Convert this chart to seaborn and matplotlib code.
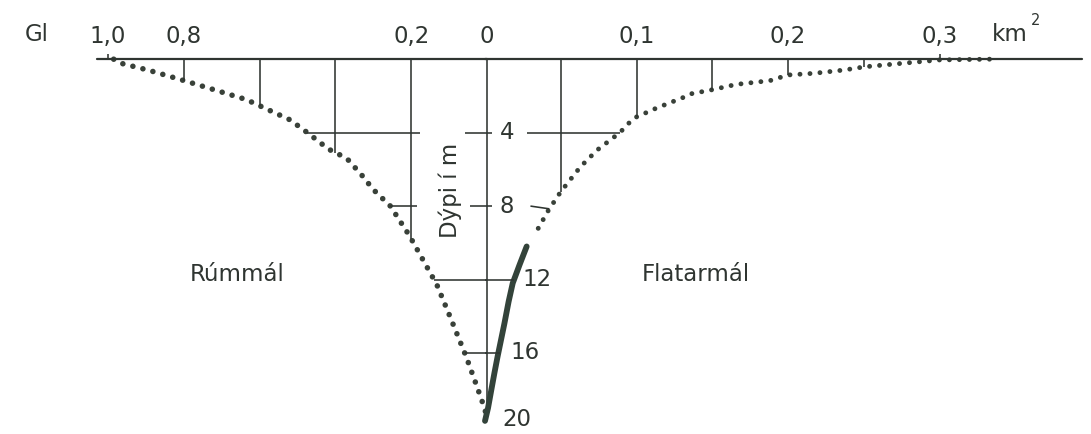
import numpy as np
import matplotlib
matplotlib.use("Agg")
import matplotlib.pyplot as plt
import seaborn as sns

# ---------------- data ----------------
# cumulative volume (Gl) below each depth (m)  -> left, dotted
VOL_DEPTH = [0, 0.2, 0.6, 1.1, 1.6, 2.2, 2.9, 3.3, 4.0, 4.9, 5.4, 6.3, 7.1, 8.0,
             9.6, 11.0, 12.3, 14.0, 16.2, 17.8, 19.1, 19.7]
VOLUME = [0.985, 0.970, 0.893, 0.810, 0.730, 0.635, 0.562, 0.520, 0.474, 0.418,
          0.370, 0.331, 0.300, 0.255, 0.205, 0.167, 0.132, 0.098, 0.055, 0.027,
          0.005, 0.0]

# area (km2) at each depth (m) -> right; dotted upper part, solid lower part
AREA_DEPTH_DOTTED = [0, 0.04, 0.22, 0.41, 0.59, 0.77, 0.86, 1.17, 1.37, 1.68,
                     1.90, 2.08, 2.67, 3.22, 4.0, 4.95, 5.86, 7.22, 8.21, 9.67]
AREA_DOTTED = [0.333, 0.300, 0.276, 0.251, 0.237, 0.217, 0.200, 0.188, 0.166,
               0.149, 0.135, 0.131, 0.113, 0.098, 0.089, 0.074, 0.063, 0.050,
               0.042, 0.032]
AREA_DEPTH_SOLID = [10.2, 11.2, 12.2, 13.2, 14.4, 15.2, 16.2, 17.1, 18.0, 19.0, 19.7]
AREA_SOLID = [0.0275, 0.0228, 0.0183, 0.0156, 0.0128, 0.0108, 0.0083, 0.0062,
              0.0042, 0.0020, 0.0]

VOL_TICKS = [0.0, 0.2, 0.4, 0.6, 0.8, 1.0]
VOL_TICK_LABELS = ["0", "0,2", "", "", "0,8", "1,0"]
AREA_TICKS = [0.05, 0.10, 0.15, 0.20, 0.25, 0.30]
AREA_TICK_LABELS = ["", "0,1", "", "0,2", "", "0,3"]
DEPTH_TICKS = [4, 8, 12, 16, 20]
DEPTH_TICK_LABELS = ["4", "8", "12", "16", "20"]

VOL_UNIT = "Gl"
AREA_UNIT = "km"
VOL_TITLE = "Rúmmál"
AREA_TITLE = "Flatarmál"
DEPTH_TITLE = "Dýpi í m"

# ---------------- style ----------------
sns.set_theme(style="white")
plt.rcParams["font.family"] = ["DejaVu Sans"]
INK = "#2f3531"
DOT = "#394139"
THICK = "#33433a"
FS = 16.5

W, H = 1091, 434
fig = plt.figure(figsize=(W / 100, H / 100), dpi=100)
fig.patch.set_facecolor("white")

top_px = 59.2
px_per_m = 18.36
ax_v = fig.add_axes([0, 0, 1, 1 - top_px / H])
ax_v.set_ylim((H - top_px) / px_per_m, 0)
# volume scale: 0 at x=487 px, 379 px per Gl (increasing to the left)
ax_v.set_xlim(487 / 379, (487 - W) / 379)
ax_a = ax_v.twiny()
# area scale: 0 at x=485 px, 1515 px per km2
ax_a.set_xlim(-485 / 1515, (W - 485) / 1515)
ax_a.set_ylim((H - top_px) / px_per_m, 0)

for ax in (ax_v, ax_a):
    for s in ax.spines.values():
        s.set_visible(False)
    ax.set_facecolor("none")
    ax.set_yticks([])
    ax.grid(False)

ax_v.xaxis.tick_top()
ax_v.set_xticks(VOL_TICKS, labels=VOL_TICK_LABELS)
ax_a.set_xticks(AREA_TICKS, labels=AREA_TICK_LABELS)
for ax in (ax_v, ax_a):
    ax.tick_params(axis="x", which="both", length=0, pad=8.4,
                   labelsize=FS, labelcolor=INK, top=True, bottom=False,
                   labeltop=True, labelbottom=False)

# curves
sns.lineplot(x=VOLUME, y=VOL_DEPTH, ax=ax_v, color=DOT, lw=4.0,
             linestyle=(0, (0.01, 1.85)), dash_capstyle="round",
             estimator=None, sort=False, legend=False)
ax_v.lines[-1].set_clip_on(False)
sns.lineplot(x=AREA_DOTTED, y=AREA_DEPTH_DOTTED, ax=ax_a, color=DOT, lw=3.5,
             linestyle=(0, (0.01, 2.05)), dash_capstyle="round",
             estimator=None, sort=False, legend=False)
ax_a.lines[-1].set_clip_on(False)
sns.lineplot(x=AREA_SOLID, y=AREA_DEPTH_SOLID, ax=ax_a, color=THICK, lw=4.2,
             estimator=None, sort=False, legend=False,
             solid_capstyle="round", solid_joinstyle="round")

vol_at = lambda d: np.interp(d, VOL_DEPTH, VOLUME)
depth_at_vol = lambda v: np.interp(v, VOLUME[::-1], VOL_DEPTH[::-1])
area_at = lambda d: np.interp(d, AREA_DEPTH_DOTTED, AREA_DOTTED)
depth_at_area = lambda a: np.interp(a, AREA_DOTTED[::-1], AREA_DEPTH_DOTTED[::-1])
solid_at = lambda d: np.interp(d, AREA_DEPTH_SOLID, AREA_SOLID)

lk = dict(color=INK, lw=1.15, clip_on=False, solid_capstyle="butt")

# surface line
ax_v.plot([1.03, 0], [0, 0], color=INK, lw=1.6, clip_on=False)
ax_a.plot([0, 0.394], [0, 0], color=INK, lw=1.6, clip_on=False)
# depth axis
ax_v.plot([0, 0], [0, 19.5], **lk)

# drop lines from the scale ticks to the curves
for v in VOL_TICKS[1:-1]:
    ax_v.plot([v, v], [0, depth_at_vol(v)], **lk)
ax_v.plot([1.0, 1.0], [-0.3, 0], **lk)
for a in AREA_TICKS[:-1]:
    ax_a.plot([a, a], [0, depth_at_area(a)], **lk)
ax_a.plot([0.3, 0.3], [-0.3, 0.05], **lk)

# horizontal depth lines
ax_v.plot([vol_at(4), 0.177], [4, 4], **lk)
ax_v.plot([0.058, -0.013], [4, 4], **lk)
ax_a.plot([0.028, area_at(4)], [4, 4], **lk)
ax_v.plot([vol_at(8), 0.185], [8, 8], **lk)
ax_v.plot([0.045, -0.013], [8, 8], **lk)
ax_a.plot([0.030, area_at(8.15)], [8, 8.15], **lk)
ax_v.plot([vol_at(12), 0], [12, 12], **lk)
ax_a.plot([0, solid_at(12)], [12, 12], **lk)
ax_v.plot([vol_at(16), 0], [16, 16], **lk)
ax_a.plot([0, solid_at(16) + 0.0012], [16, 16], **lk)

# depth labels (right of the depth axis)
lab_x = [0.0099, 0.0099, 0.025, 0.0165, 0.0112]
lab_y = [4, 8, 12, 16, 19.65]
for x, y, t in zip(lab_x, lab_y, DEPTH_TICK_LABELS):
    ax_a.text(x, y, t, fontsize=FS, color=INK, ha="left", va="center")

# titles / units
ax_v.text(0.0976, 7.12, DEPTH_TITLE, rotation=90, fontsize=FS, color=INK,
          ha="center", va="center")
ax_v.text(0.66, 11.75, VOL_TITLE, fontsize=FS, color=INK, ha="center", va="center")
ax_a.text(0.139, 11.75, AREA_TITLE, fontsize=FS, color=INK, ha="center", va="center")
ax_v.text(1.187, -1.0, VOL_UNIT, fontsize=FS, color=INK, ha="center",
          va="baseline", clip_on=False)
ax_a.text(0.3347, -1.0, AREA_UNIT, fontsize=FS, color=INK, ha="left",
          va="baseline", clip_on=False)
ax_a.text(0.3600, -1.85, "2", fontsize=10.5, color=INK, ha="left",
          va="baseline", clip_on=False)

fig.savefig("out.png", dpi=100, facecolor="white")
